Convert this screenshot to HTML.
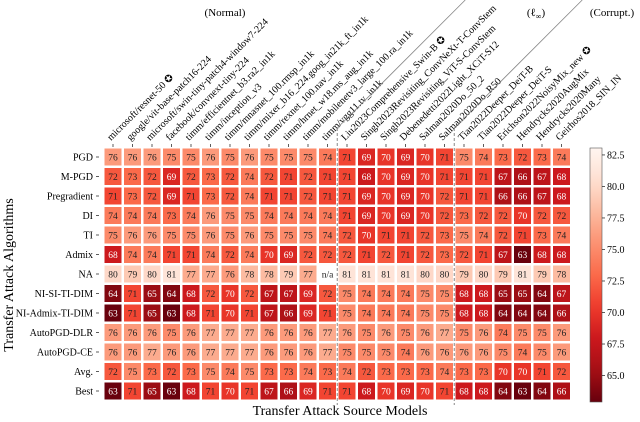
<!DOCTYPE html>
<html><head><meta charset="utf-8">
<style>
html,body{margin:0;padding:0;background:#fff;}
svg{display:block;font-family:"Liberation Serif","DejaVu Serif",serif;}
</style></head>
<body>
<svg id="chart" width="640" height="422" viewBox="0 0 640 422" xmlns="http://www.w3.org/2000/svg">
<text x="225" y="16" font-size="11" text-anchor="middle">(Normal)</text>
<text x="536" y="16" font-size="11" text-anchor="middle">(ℓ<tspan font-size="8" dy="3">∞</tspan><tspan dy="-3">)</tspan></text>
<text x="612" y="16" font-size="11" text-anchor="middle">(Corrupt.)</text>
<text transform="translate(13,275) rotate(-90)" font-size="14" text-anchor="middle">Transfer Attack Algorithms</text>
<text x="340" y="415" font-size="14" text-anchor="middle">Transfer Attack Source Models</text>
<g id="cells"></g>
<g id="labels"></g>
<g id="cbar"></g>
</svg>
<script>
const models = ["microsoft/resnet-50","google/vit-base-patch16-224","microsoft/swin-tiny-patch4-window7-224","facebook/convnext-tiny-224","timm/efficientnet_b3.ra2_in1k","timm/inception_v3","timm/mnasnet_100.rmsp_in1k","timm/mixer_b16_224.goog_in21k_ft_in1k","timm/rexnet_100.nav_in1k","timm/hrnet_w18.ms_aug_in1k","timm/mobilenetv3_large_100.ra_in1k","timm/vgg11.tv_in1k","Liu2023Comprehensive_Swin-B","Singh2023Revisiting_ConvNeXt-T-ConvStem","Singh2023Revisiting_ViT-S-ConvStem","Debenedetti2022Light_XCiT-S12","Salman2020Do_50_2","Salman2020Do_R50","Tian2022Deeper_DeiT-B","Tian2022Deeper_DeiT-S","Erichson2022NoisyMix_new","Hendrycks2020AugMix","Hendrycks2020Many","Geirhos2018_SIN_IN"];
const starred = [0,12,20];
const attacks = ["PGD","M-PGD","Pregradient","DI","TI","Admix","NA","NI-SI-TI-DIM","NI-Admix-TI-DIM","AutoPGD-DLR","AutoPGD-CE","Avg.","Best"];
const rowPGD   = [76,76,76,75,75,76,75,76,75,75,75,74,71,69,70,69,70,71,75,74,73,72,73,74];
const rowMPGD  = [72,73,72,69,72,73,72,74,72,71,72,71,71,68,70,69,70,71,71,71,67,66,67,68];
const rowPreg  = [71,73,72,69,71,73,72,74,71,71,72,71,71,69,70,69,70,72,71,71,66,66,67,68];
const rowDI    = [74,74,74,73,74,76,75,75,74,74,74,74,71,69,70,69,70,72,73,72,72,70,72,72];
const rowTI    = [75,76,76,75,75,76,75,76,75,75,75,74,72,70,71,71,72,73,75,74,72,71,73,74];
const rowAdmix = [68,74,74,71,71,74,72,74,70,69,72,72,72,71,72,71,72,73,72,71,67,63,68,68];
const rowNA    = [80,79,80,81,77,77,76,78,78,79,77,null,81,81,81,81,80,80,79,80,79,81,79,78];
const rowNISI  = [64,71,65,64,68,72,70,72,67,67,69,72,75,74,74,74,75,75,68,68,65,65,64,67];
const rowNIAd  = [63,71,65,63,68,71,70,71,67,66,69,71,75,74,74,74,75,75,68,68,64,64,64,66];
const rowDLR   = [76,76,76,75,76,77,77,77,76,76,76,77,76,75,76,75,76,77,75,76,74,75,75,76];
const rowCE    = [76,76,77,76,76,77,77,77,76,76,76,77,75,75,75,74,76,76,76,76,75,74,75,76];
const rowAvg   = [72,75,73,72,73,75,74,75,73,73,74,73,74,72,73,73,73,74,73,73,70,70,71,72];
const rowBest  = [63,71,65,63,68,71,70,71,67,66,69,71,71,68,70,69,70,71,68,68,64,63,64,66];
const values = [rowPGD,rowMPGD,rowPreg,rowDI,rowTI,rowAdmix,rowNA,rowNISI,rowNIAd,rowDLR,rowCE,rowAvg,rowBest];
const cbTicks = [65.0,67.5,70.0,72.5,75.0,77.5,80.0,82.5];
const vmin = 62.9, vmax = 83.05;
const separators = [12,18];

const NS="http://www.w3.org/2000/svg";
const X0=104.5, Y0=148.5, P=19.5, C=17;
const xAt=i=>X0+i*P, yAt=j=>Y0+j*P;
const stops=["#fff5f0","#fee0d2","#fcbba1","#fc9272","#fb6a4a","#ef3b2c","#cb181d","#a50f15","#67000d"].map(h=>[1,3,5].map(k=>parseInt(h.substr(k,2),16)));
function color(v){let t=(v-vmin)/(vmax-vmin);t=Math.max(0,Math.min(1,t));let s=(1-t)*8;let i=Math.min(7,Math.floor(s));let f=s-i;const a=stops[i],b=stops[i+1];return a.map((c,k)=>Math.round(c+(b[k]-c)*f));}
function lum(c){const l=c.map(x=>{x/=255;return x<=0.03928?x/12.92:Math.pow((x+0.055)/1.055,2.4)});return 0.2126*l[0]+0.7152*l[1]+0.0722*l[2];}
function mk(tag,attrs,parent){const e=document.createElementNS(NS,tag);for(const k in attrs)e.setAttribute(k,attrs[k]);parent.appendChild(e);return e;}
const cells=document.getElementById('cells'), labels=document.getElementById('labels'), cbar=document.getElementById('cbar');

values.forEach((row,j)=>{row.forEach((v,i)=>{
  const c = v===null ? [255,255,255] : color(v);
  const r=mk('rect',{x:xAt(i),y:yAt(j),width:C,height:C,fill:`rgb(${c})`},cells);
  
  
  const t=mk('text',{x:xAt(i)+C/2,y:yAt(j)+C/2+3.3,'font-size':9.5,'text-anchor':'middle',fill:(v!==null&&lum(c)<0.2)?'#fff':'#222'},cells);
  t.textContent = v===null ? 'n/a' : String(v);
  
  
});});

attacks.forEach((a,j)=>{
  const y=yAt(j)+C/2;
  const t=mk('text',{x:93,y:y+3.5,'font-size':10,'text-anchor':'end'},labels);
  t.textContent=a;
  
  
  mk('line',{x1:96,x2:99,y1:y,y2:y,stroke:'#333','stroke-width':0.8},labels);
});

models.forEach((m,i)=>{
  const x=xAt(i)+C/2;
  mk('line',{x1:x,x2:x,y1:144,y2:147,stroke:'#333','stroke-width':0.8},labels);
  const t=mk('text',{x:0,y:0,'font-size':10,transform:`translate(${x-2},141) rotate(-45)`},labels);
  t.textContent=m+(starred.includes(i)?' ✪':'');
  
  
});

separators.forEach(k=>{
  const x=xAt(k)-1.25;
  const l=mk('line',{x1:x,x2:x,y1:128,y2:405,stroke:'#888','stroke-width':1,'stroke-dasharray':'3,2'},labels);
  
  
  mk('line',{x1:x,x2:x+128,y1:128,y2:0,stroke:'#888','stroke-width':0.8},labels);
});

const CBX=590, CBY=148, CBW=12, CBH=254;
const g=mk('defs',{},cbar);
const lg=mk('linearGradient',{id:'cbg',x1:0,y1:0,x2:0,y2:1},g);
for(let k=0;k<=20;k++){const v=vmax-(vmax-vmin)*k/20;mk('stop',{offset:k/20,'stop-color':`rgb(${color(v)})`},lg);}
const cr=mk('rect',{x:CBX,y:CBY,width:CBW,height:CBH,fill:'url(#cbg)',stroke:'#555','stroke-width':0.6},cbar);


const cy=v=>CBY+(vmax-v)/(vmax-vmin)*CBH;
cbTicks.forEach(v=>{
  const y=cy(v);
  mk('line',{x1:CBX+CBW,x2:CBX+CBW+3,y1:y,y2:y,stroke:'#333','stroke-width':0.8},cbar);
  const t=mk('text',{x:CBX+CBW+5,y:y+3.5,'font-size':10},cbar);
  t.textContent=v.toFixed(1);
  
  
});
</script>
</body></html>
